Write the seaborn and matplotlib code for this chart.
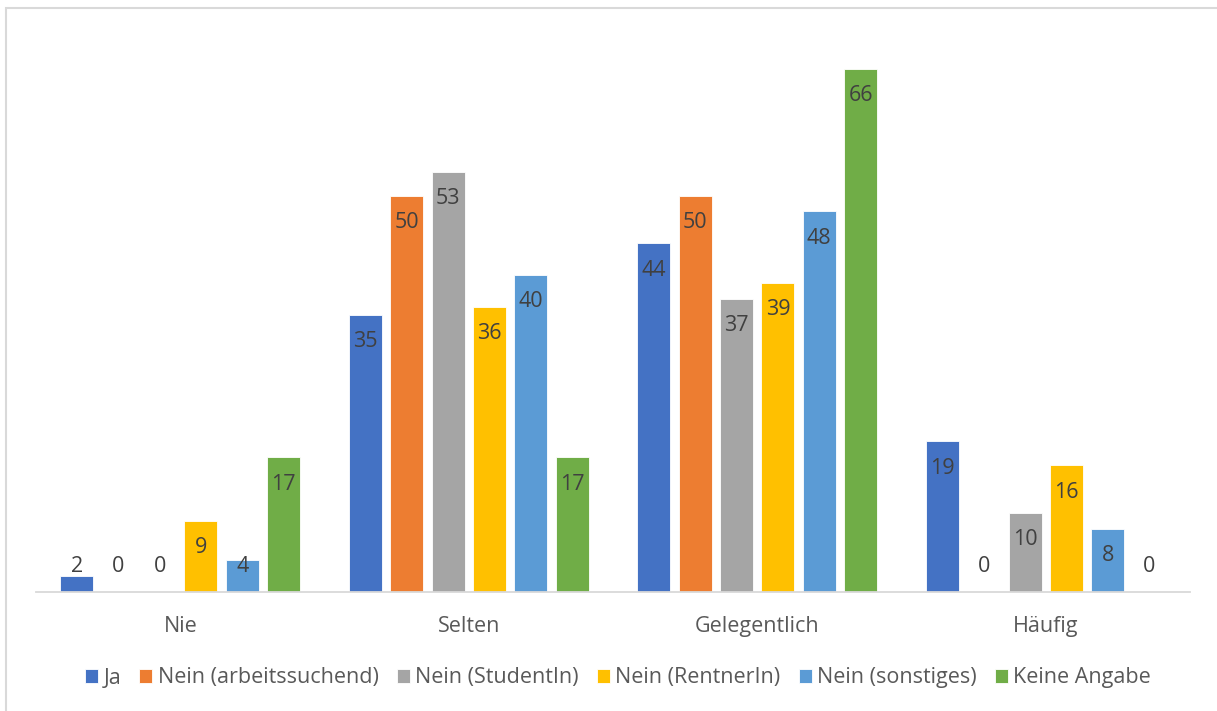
import numpy as np
import pandas as pd
import seaborn as sns
import matplotlib.pyplot as plt
from matplotlib.patches import Rectangle

# Data
categories = ['Nie', 'Selten', 'Gelegentlich', 'Häufig']
groups = ['Ja', 'Nein (arbeitssuchend)', 'Nein (StudentIn)', 'Nein (RentnerIn)',
          'Nein (sonstiges)', 'Keine Angabe']
ja = [2, 35, 44, 19]
arbeitssuchend = [0, 50, 50, 0]
studentin = [0, 53, 37, 10]
rentnerin = [9, 36, 39, 16]
sonstiges = [4, 40, 48, 8]
keine_angabe = [17, 17, 66, 0]
colors = ['#4472C4', '#ED7D31', '#A5A5A5', '#FFC000', '#5B9BD5', '#70AD47']

series = [ja, arbeitssuchend, studentin, rentnerin, sonstiges, keine_angabe]
rows = []
for g, vals in zip(groups, series):
    for c, v in zip(categories, vals):
        rows.append({'Kategorie': c, 'Gruppe': g, 'Wert': v})
df = pd.DataFrame(rows)

sns.set_style('white')
plt.rcParams['font.family'] = ['Open Sans', 'DejaVu Sans']

fig = plt.figure(figsize=(12.17, 7.11), dpi=100)
ax = fig.add_axes([36 / 1217, 1 - 592 / 711, (1190 - 36) / 1217, (592 - 37) / 711])

sns.barplot(data=df, x='Kategorie', y='Wert', hue='Gruppe', order=categories,
            hue_order=groups, palette=colors, saturation=1, width=0.86, gap=0.2,
            edgecolor='white', linewidth=0.6, ax=ax)

ax.set_ylim(0, 70)
ax.set_xlim(-0.5, 3.5)

# value labels inside end
for cont, vals in zip(ax.containers, series):
    for bar, v in zip(cont, vals):
        x = bar.get_x() + bar.get_width() / 2
        y = max(v - 3.4, 3.2)
        ax.text(x, y, str(v), ha='center', va='center', fontsize=15.5, color='#404040')

for s in ['top', 'right', 'left']:
    ax.spines[s].set_visible(False)
ax.spines['bottom'].set_color('#D9D9D9')
ax.spines['bottom'].set_linewidth(1.3)
ax.set_yticks([])
ax.set_xlabel('')
ax.set_ylabel('')
ax.tick_params(axis='x', length=0, pad=17, labelsize=15.5, labelcolor='#595959')

handles, labels = ax.get_legend_handles_labels()
ax.legend(handles, labels, loc='center', bbox_to_anchor=(618 / 1217, 1 - 678 / 711),
          bbox_transform=fig.transFigure, ncol=6, frameon=False, fontsize=15.5,
          labelcolor='#595959', handlelength=0.6, handleheight=0.6,
          handletextpad=0.25, columnspacing=0.85)

# chart border
fig.patches.append(Rectangle((6 / 1217, -0.1), 1.2, 1 - 8 / 711 + 0.1,
                             transform=fig.transFigure, fill=False,
                             edgecolor='#D9D9D9', linewidth=1.5))

fig.savefig('out.png', dpi=100)
